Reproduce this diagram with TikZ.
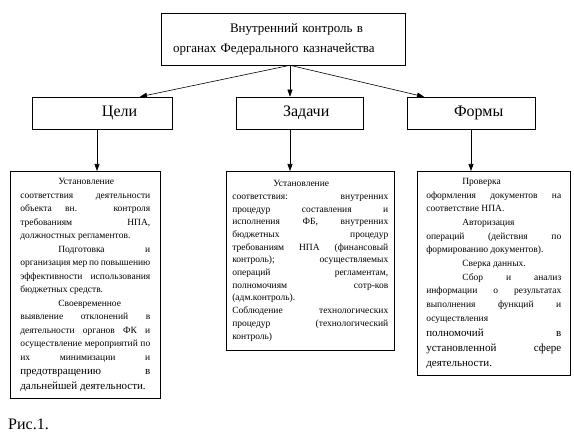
\documentclass[tikz,border=0pt]{standalone}
\usepackage{fontspec}
\setmainfont{Liberation Serif}
\usetikzlibrary{arrows.meta,positioning}
\setlength{\parindent}{0pt}

\begin{document}
\begin{tikzpicture}[x=1pt,y=-1pt,
  box/.style={rectangle, draw, line width=0.6pt},
  head/.style={box, minimum height=32pt, inner xsep=4pt, align=left, font=\fontsize{16}{18}\selectfont},
  txt/.style={box, anchor=north west, align=justify, inner ysep=4pt},
  arrow/.style={-{Triangle[length=7pt,width=5pt]}, line width=0.6pt}
]
\useasboundingbox (0,0) rectangle (574,441);

% Top
\node[box, text width=220pt, inner xsep=12pt, minimum height=52pt, align=left,
  font=\fontsize{13}{20}\selectfont] (control) at (283,39)
  {\hspace*{57pt}Внутренний контроль в\\органах Федерального казначейства};

% Second row
\node[head, text width=132pt] (goals) at (102,113) {\hspace*{66pt}Цели};
\node[head, text width=119pt] (tasks) at (299.5,113) {\hspace*{43pt}Задачи};
\node[head, text width=120pt] (forms) at (471,113) {\hspace*{43pt}Формы};

% Text boxes
\node[txt, text width=130pt, inner xsep=10pt, minimum height=227pt,
  font=\fontsize{9.5}{13.5}\selectfont] (goalstext) at (10,171) {%
\hspace*{38pt}Установление\\
соответствия деятельности\linebreak
объекта вн. контроля\linebreak
требованиям НПА,\linebreak
должностных регламентов.\par
\hspace*{38pt}Подготовка и\linebreak
организация мер по повышению\linebreak
эффективности использования\linebreak
бюджетных средств.\par
\hspace*{38pt}Своевременное\\
выявление отклонений в\linebreak
деятельности органов ФК и\linebreak
осуществление мероприятий по\linebreak
их\hfill минимизации\hfill и\par
{\fontsize{11}{14.5}\selectfont предотвращению\hfill в\\
дальнейшей деятельности.\par}};

\node[txt, text width=156pt, inner xsep=6pt, minimum height=179pt,
  font=\fontsize{9.5}{12.7}\selectfont] (taskstext) at (226,171) {%
\hspace*{41pt}Установление\\
соответствия: внутренних\linebreak
процедур составления и\linebreak
исполнения ФБ, внутренних\linebreak
бюджетных процедур\linebreak
требованиям НПА (финансовый\linebreak
контроль); осуществляемых\linebreak
операций регламентам,\linebreak
полномочиям сотр-ков\linebreak
(адм.контроль).\par
Соблюдение технологических\linebreak
процедур (технологический\linebreak
контроль)\par};

\node[txt, text width=135pt, inner xsep=9pt, minimum height=204pt,
  font=\fontsize{9.5}{13.7}\selectfont] (formstext) at (417,171) {%
\hspace*{36pt}Проверка\\
оформления документов на\linebreak
соответствие НПА.\par
\hspace*{36pt}Авторизация\\
операций (действия по\linebreak
формированию документов).\par
\hspace*{36pt}Сверка данных.\par
\hspace*{36pt}Сбор и анализ\linebreak
информации о результатах\linebreak
выполнения функций и\linebreak
осуществления\par
{\fontsize{11}{15}\selectfont полномочий в\linebreak
установленной сфере\linebreak
деятельности.\par}};

% Caption
\node[anchor=base west, inner sep=0pt, font=\fontsize{16}{18}\selectfont] (caption) at (8,429) {Рис.1.};

% Connections
\draw[arrow] ([xshift=7pt]control.south) -- ([xshift=38pt]goals.north);
\draw[arrow] ([xshift=7pt]control.south) -- ([xshift=-9.5pt]tasks.north);
\draw[arrow] ([xshift=7pt]control.south) -- ([xshift=-47pt]forms.north);
\draw[arrow] ([xshift=-5pt]goals.south) -- ([xshift=-5pt]goals.south |- goalstext.north);
\draw[arrow] ([xshift=-9.5pt]tasks.south) -- ([xshift=-9.5pt]tasks.south |- taskstext.north);
\draw[arrow] (forms.south) -- (forms.south |- formstext.north);
\end{tikzpicture}
\end{document}
